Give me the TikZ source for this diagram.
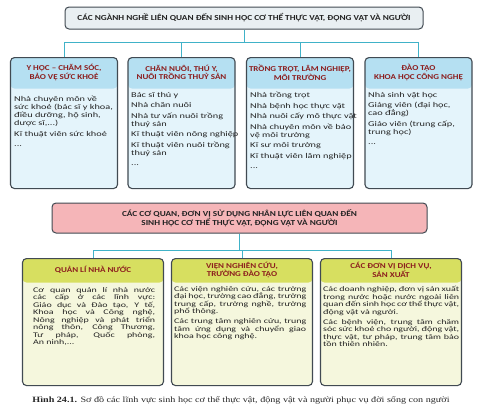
\documentclass[tikz,border=0pt]{standalone}
\usepackage{fontspec}
\setmainfont[FakeStretch=1.4]{Carlito}
\newfontfamily\headfont[FakeStretch=1.2]{Carlito}
\newfontfamily\capfont[FakeStretch=1.25]{Liberation Serif}
\usepackage{xcolor}
\usepackage{tikz}
\usetikzlibrary{positioning}
\definecolor{linecyan}{RGB}{64, 178, 200}
\definecolor{titlefill}{RGB}{233, 239, 242}
\definecolor{boxgrey}{RGB}{65, 74, 82}
\definecolor{headblue}{RGB}{181, 224, 242}
\definecolor{bodyblue}{RGB}{228, 244, 251}
\definecolor{headgreen}{RGB}{215, 223, 96}
\definecolor{bodygreen}{RGB}{245, 247, 221}
\definecolor{pinkfill}{RGB}{245, 181, 184}
\definecolor{headred}{RGB}{140, 30, 30}
\definecolor{textgrey}{RGB}{35, 35, 35}

\tikzset{
  conn/.style={linecyan, line width=0.8pt},
  titlebox/.style={draw=boxgrey, line width=1pt, rounded corners=4pt, inner sep=0pt,
    align=center, text=textgrey, font=\headfont\bfseries\fontsize{7.7}{8.6}\selectfont},
  bluebox/.style={draw=boxgrey, line width=1.1pt, rounded corners=4pt, fill=bodyblue,
    minimum width=107pt, minimum height=131pt, anchor=north,
    path picture={\fill[headblue] (path picture bounding box.north west)
      rectangle ([yshift=-31pt]path picture bounding box.north east);}},
  greenbox/.style={draw=boxgrey, line width=1.1pt, rounded corners=4pt, fill=bodygreen,
    minimum width=141pt, minimum height=127pt, anchor=north,
    path picture={\fill[headgreen] (path picture bounding box.north west)
      rectangle ([yshift=-24pt]path picture bounding box.north east);}},
  headtext/.style={inner sep=0pt, align=center, text=headred,
    font=\headfont\bfseries\fontsize{7.5}{8.6}\selectfont},
  bodytext/.style={inner sep=0pt, anchor=north west, align=left, text=textgrey,
    font=\fontsize{7.35}{8}\selectfont},
  parjust/.style={inner sep=0pt, anchor=north west, align=justify, text=textgrey,
    font=\fontsize{7.1}{7.5}\selectfont}
}

\begin{document}
\begin{tikzpicture}[x=1pt, y=-1pt]
  \useasboundingbox (0,0) rectangle (483,413);

  % Hang tren: cac nganh nghe
  \node[titlebox, fill=titlefill, minimum width=358pt, minimum height=22pt] (nganhnghe) at (244,18)
    {CÁC NGÀNH NGHỀ LIÊN QUAN ĐẾN SINH HỌC CƠ THỂ THỰC VẬT, ĐỘNG VẬT VÀ NGƯỜI};

  \node[bluebox] (yhoc) at (64,57) {};
  \node[bluebox] (channuoi) at (181.5,57) {};
  \node[bluebox] (trongtrot) at (300,57) {};
  \node[bluebox] (daotao) at (418.5,57) {};

  \node[headtext] at ([yshift=-15.5pt]yhoc.north) {Y HỌC – CHĂM SÓC,\\BẢO VỆ SỨC KHOẺ};
  \node[headtext] at ([yshift=-15.5pt]channuoi.north) {CHĂN NUÔI, THÚ Y,\\NUÔI TRỒNG THUỶ SẢN};
  \node[headtext] at ([yshift=-15.5pt]trongtrot.north) {TRỒNG TRỌT, LÂM NGHIỆP,\\MÔI TRƯỜNG};
  \node[headtext] at ([yshift=-15.5pt]daotao.north) {ĐÀO TẠO\\KHOA HỌC CÔNG NGHỆ};

  \node[bodytext] (yhoc-t) at (14,96) {Nhà chuyên môn về\\sức khoẻ (bác sĩ y khoa,\\điều dưỡng, hộ sinh,\\dược sĩ,...)\\[2.5pt]
    Kĩ thuật viên sức khoẻ\\[2.5pt]...};
  \node[bodytext] (channuoi-t) at (131,92) {Bác sĩ thú y\\[2.5pt]Nhà chăn nuôi\\[2.5pt]
    Nhà tư vấn nuôi trồng\\thuỷ sản\\[2.5pt]Kĩ thuật viên nông nghiệp\\[2.5pt]
    Kĩ thuật viên nuôi trồng\\thuỷ sản\\[2.5pt]...};
  \node[bodytext] (trongtrot-t) at (250,92) {Nhà trồng trọt\\[2.5pt]Nhà bệnh học thực vật\\[2.5pt]
    Nhà nuôi cấy mô thực vật\\[2.5pt]Nhà chuyên môn về bảo\\vệ môi trường\\[2.5pt]
    Kĩ sư môi trường\\[2.5pt]Kĩ thuật viên lâm nghiệp\\[2.5pt]...};
  \node[bodytext] (daotao-t) at (368,92) {Nhà sinh vật học\\[2.5pt]Giảng viên (đại học,\\cao đẳng)\\[2.5pt]
    Giáo viên (trung cấp,\\trung học)\\[2.5pt]...};

  % Noi cac nganh nghe
  \coordinate (bar1) at (0,42);
  \draw[conn] (nganhnghe.south) -- (nganhnghe.south |- bar1);
  \foreach \n in {yhoc, channuoi, trongtrot, daotao}
    \draw[conn] (\n.north) |- (nganhnghe.south |- bar1);

  % Hang duoi: cac co quan, don vi
  \node[titlebox, fill=pinkfill, minimum width=375pt, minimum height=30pt] (coquan) at (239.5,218)
    {CÁC CƠ QUAN, ĐƠN VỊ SỬ DỤNG NHÂN LỰC LIÊN QUAN ĐẾN\\SINH HỌC CƠ THỂ THỰC VẬT, ĐỘNG VẬT VÀ NGƯỜI};

  \node[greenbox] (quanli) at (93,258) {};
  \node[greenbox] (viennc) at (242,258) {};
  \node[greenbox] (dichvu) at (391,258) {};

  \node[headtext] at ([yshift=-12pt]quanli.north) {QUẢN LÍ NHÀ NƯỚC};
  \node[headtext] at ([yshift=-12pt]viennc.north) {VIỆN NGHIÊN CỨU,\\TRƯỜNG ĐÀO TẠO};
  \node[headtext] at ([yshift=-12pt]dichvu.north) {CÁC ĐƠN VỊ DỊCH VỤ,\\SẢN XUẤT};

  \node[parjust, text width=122pt] (quanli-t) at (33,287) {Cơ quan quản lí nhà nước\linebreak
    các cấp ở các lĩnh vực:\linebreak Giáo dục và Đào tạo, Y tế,\linebreak
    Khoa học và Công nghệ,\linebreak Nông nghiệp và phát triển\linebreak
    nông thôn, Công Thương,\linebreak Tư pháp, Quốc phòng,\linebreak An ninh,...};
  \node[parjust, text width=132pt] (viennc-t) at (174,286) {Các viện nghiên cứu, các trường\linebreak
    đại học, trường cao đẳng, trường\linebreak trung cấp, trường nghề, trường\linebreak
    phổ thông.\par\vspace{2.5pt}
    Các trung tâm nghiên cứu, trung\linebreak tâm ứng dụng và chuyển giao\linebreak
    khoa học công nghệ.};
  \node[parjust, text width=136pt] (dichvu-t) at (323,286) {Các doanh nghiệp, đơn vị sản xuất\linebreak
    trong nước hoặc nước ngoài liên\linebreak quan đến sinh học cơ thể thực vật,\linebreak
    động vật và người.\par\vspace{2.5pt}
    Các bệnh viện, trung tâm chăm\linebreak sóc sức khoẻ cho người, động vật,\linebreak
    thực vật, tư pháp, trung tâm bảo\linebreak tồn thiên nhiên.};

  % Noi cac co quan
  \coordinate (bar2) at (0,250);
  \draw[conn] (coquan.south) -- (coquan.south |- bar2);
  \foreach \n in {quanli, viennc, dichvu}
    \draw[conn] (\n.north) |- (coquan.south |- bar2);

  % Chu thich
  \node[font=\capfont\fontsize{8.1}{8.5}\selectfont, text=black!85, inner sep=0pt] (chuthich) at (241,400)
    {\textbf{Hình 24.1.} Sơ đồ các lĩnh vực sinh học cơ thể thực vật, động vật và người phục vụ đời sống con người};
\end{tikzpicture}
\end{document}
